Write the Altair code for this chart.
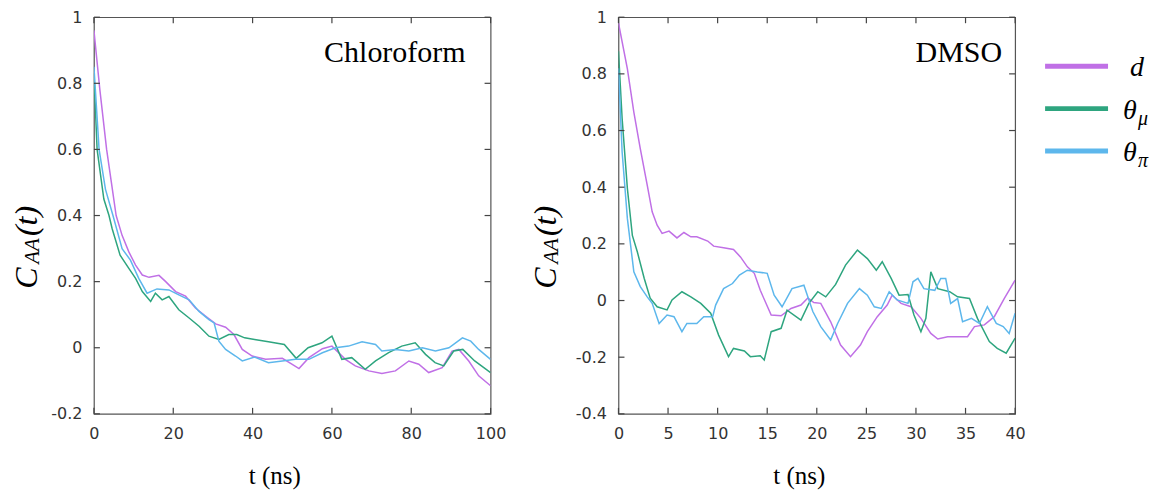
import altair as alt
import pandas as pd

SERIES = ["d", "theta_mu", "theta_pi"]
COLORS = ["#c070e6", "#2ea57f", "#5db7ec"]
LEG_MAIN = ["d", "θ", "θ"]
LEG_SUB = ["", "μ", "π"]

# Chloroform panel
CH_D_T = [0, 1.5, 3.2, 4.4, 5.6, 7.1, 8.8, 10.5, 12.2, 13.9, 16.4, 18.1, 20.6, 23.1, 25.6, 28.2, 30.7, 33.2, 35.3, 37.4,
          39.9, 43.3, 47.5, 50, 51.7, 54.2, 57.6, 60, 63.4, 65.9, 69.3, 72.6, 76, 79.4, 81.9, 84.4, 87.8, 90.3, 92, 94.5, 97, 100]
CH_D_V = [0.96, 0.78, 0.6, 0.5, 0.4, 0.34, 0.29, 0.25, 0.22, 0.213, 0.219, 0.2, 0.17, 0.156, 0.12, 0.095, 0.072, 0.062, 0.04, -0.005,
          -0.025, -0.035, -0.032, -0.05, -0.063, -0.03, -0.003, 0.005, -0.035, -0.055, -0.07, -0.078, -0.07, -0.04, -0.05, -0.075, -0.06, -0.01, -0.005, -0.04, -0.085, -0.115]
CH_M_T = [0, 0.8, 2.5, 3.8, 4.6, 6.6, 8.8, 10.5, 12.2, 14.3, 15.5, 17.2, 18.9, 21.4, 24, 26.5, 29, 31.5, 34, 36,
          38, 40.5, 44, 48, 51, 54, 57.5, 60, 62.5, 65, 68.4, 71, 74.3, 77.6, 81, 83.6, 86, 88.2, 90.7, 93, 96, 100]
CH_M_V = [0.83, 0.6, 0.45, 0.4, 0.36, 0.28, 0.24, 0.21, 0.17, 0.14, 0.165, 0.145, 0.155, 0.115, 0.09, 0.065, 0.035, 0.025, 0.04, 0.04,
          0.03, 0.025, 0.018, 0.01, -0.032, 0.0, 0.015, 0.035, -0.035, -0.03, -0.065, -0.04, -0.015, 0.005, 0.015, -0.02, -0.045, -0.055, -0.01, -0.005, -0.04, -0.075]
CH_P_T = [0, 1.3, 2.9, 4.8, 7.1, 9.2, 11.3, 13.4, 15.9, 18.9, 21.4, 24, 26.5, 29, 30.3, 31.5, 33.2, 35.7, 37.4, 40.5,
          44, 47.5, 50.8, 54.2, 57.6, 60.9, 64.2, 67.6, 71, 72.6, 76, 79.4, 82.8, 86.1, 89.5, 92.9, 95, 97, 100]
CH_P_V = [0.85, 0.6, 0.48, 0.4, 0.3, 0.265, 0.21, 0.165, 0.178, 0.175, 0.16, 0.145, 0.11, 0.085, 0.075, 0.02, -0.005, -0.025, -0.04, -0.028,
          -0.045, -0.04, -0.035, -0.035, -0.015, 0.0, 0.005, 0.018, 0.01, -0.01, -0.005, -0.01, 0.0, -0.01, 0.0, 0.03, 0.02, -0.005, -0.035]

# DMSO panel
DM_D_T = [0, 0.9, 1.55, 2.2, 2.9, 3.4, 3.9, 4.4, 5.1, 5.9, 6.6, 7.3, 7.9, 9.0, 9.6, 10.6, 11.6, 12.3, 13.0, 13.7,
          14.3, 15.4, 16.4, 17.4, 18.4, 19.1, 19.7, 20.4, 21.4, 22.4, 23.4, 24.4, 25.1, 26.1, 27.1, 27.6, 28.5, 29.5, 30.5, 31.5,
          32.2, 33.2, 34.2, 35.2, 35.9, 36.9, 37.9, 38.9, 40]
DM_D_V = [0.98, 0.818, 0.665, 0.536, 0.407, 0.313, 0.266, 0.237, 0.245, 0.221, 0.24, 0.225, 0.225, 0.21, 0.192, 0.186, 0.18, 0.154, 0.119, 0.096,
          0.036, -0.051, -0.054, -0.028, -0.016, 0.009, -0.007, -0.01, -0.075, -0.157, -0.198, -0.157, -0.11, -0.057, -0.016, 0.019, -0.01, -0.022, -0.063, -0.116,
          -0.136, -0.128, -0.128, -0.128, -0.092, -0.086, -0.057, 0.007, 0.072]
DM_M_T = [0, 0.37, 0.9, 1.4, 1.9, 2.6, 3.2, 3.9, 4.9, 5.4, 6.4, 7.3, 8.3, 9.3, 10.1, 11.1, 11.6, 12.7, 13.3, 14.3,
          14.7, 15.4, 16.4, 17.0, 18.4, 19.2, 20.1, 20.9, 21.9, 22.9, 24.1, 25.1, 26.0, 26.6, 27.5, 28.3, 29.2, 29.8, 30.5, 31.0,
          31.5, 32.2, 33.4, 34.2, 35.4, 36.2, 37.4, 38.2, 39.1, 40]
DM_M_V = [0.88, 0.642, 0.395, 0.23, 0.172, 0.078, 0.008, -0.022, -0.033, 0.002, 0.031, 0.013, -0.01, -0.045, -0.122, -0.198, -0.169, -0.178, -0.198, -0.195,
          -0.21, -0.11, -0.098, -0.034, -0.069, -0.01, 0.031, 0.013, 0.057, 0.125, 0.178, 0.148, 0.107, 0.137, 0.078, 0.019, 0.021, -0.051, -0.11, -0.063,
          0.101, 0.042, 0.031, 0.013, 0.007, -0.063, -0.145, -0.169, -0.186, -0.133]
DM_P_T = [0, 0.37, 0.9, 1.55, 2.2, 2.9, 3.4, 4.1, 4.9, 5.6, 6.4, 6.9, 7.9, 8.6, 9.5, 9.8, 10.6, 11.5, 12.2, 13.0,
          14.0, 15.0, 15.7, 16.5, 17.5, 18.7, 19.6, 20.4, 21.4, 22.1, 23.1, 24.3, 25.1, 25.8, 26.5, 27.3, 28.1, 29.2, 29.7, 30.2,
          30.8, 31.9, 32.5, 33.0, 33.5, 34.2, 34.7, 35.6, 36.4, 37.2, 38.1, 38.8, 39.4, 40]
DM_P_V = [0.82, 0.524, 0.289, 0.101, 0.049, 0.013, -0.01, -0.081, -0.051, -0.057, -0.11, -0.081, -0.081, -0.057, -0.057, -0.016, 0.042, 0.06, 0.09, 0.107,
          0.101, 0.096, 0.019, -0.022, 0.042, 0.054, -0.039, -0.092, -0.139, -0.081, -0.01, 0.042, 0.019, -0.022, -0.028, 0.031, 0.002, -0.01, 0.066, 0.078,
          0.042, 0.036, 0.078, 0.078, -0.01, 0.007, -0.075, -0.063, -0.081, -0.022, -0.081, -0.092, -0.116, -0.045]

CH_XTICKS = [0, 20, 40, 60, 80, 100]
DM_XTICKS = [0, 5, 10, 15, 20, 25, 30, 35, 40]
CH_YTICKS = [-0.2, 0, 0.2, 0.4, 0.6, 0.8, 1]
DM_YTICKS = [-0.4, -0.2, 0, 0.2, 0.4, 0.6, 0.8, 1]

W, H = 397, 397
SERIF = "Liberation Serif"
SANS = "DejaVu Sans"


def build_df(parts):
    frames = []
    for s, t, v in parts:
        f = pd.DataFrame({"t": t, "v": v})
        f["s"] = s
        frames.append(f)
    return pd.concat(frames, ignore_index=True)


CH_DF = build_df([("d", CH_D_T, CH_D_V), ("theta_mu", CH_M_T, CH_M_V), ("theta_pi", CH_P_T, CH_P_V)])
DM_DF = build_df([("d", DM_D_T, DM_D_V), ("theta_mu", DM_M_T, DM_M_V), ("theta_pi", DM_P_T, DM_P_V)])

COLOR = alt.Color("s:N", scale=alt.Scale(domain=SERIES, range=COLORS), legend=None)


def txt(text, x, y, size, italic=False, angle=0, align="center", baseline="alphabetic"):
    kw = dict(font=SERIF, fontSize=size, align=align, baseline=baseline, color="black")
    if italic:
        kw["fontStyle"] = "italic"
    if angle:
        kw["angle"] = angle
    return alt.Chart(pd.DataFrame({"txt": [text]})).mark_text(**kw).encode(
        text="txt:N", x=alt.value(x), y=alt.value(y))


def panel(df, xdom, xticks, ydom, yticks, name, name_x, ytx, legend=False):
    xs = alt.Scale(domain=xdom, nice=False, zero=False)
    ys = alt.Scale(domain=ydom, nice=False, zero=False)
    xax = alt.Axis(values=xticks, title=None, grid=False, ticks=False, domain=False,
                   labelFont=SANS, labelFontSize=16, labelColor="#333", labelPadding=12,
                   labelFlush=False, labelExpr="toString(datum.value)")
    yax = alt.Axis(values=yticks, title=None, grid=False, ticks=False, domain=False,
                   labelFont=SANS, labelFontSize=16, labelColor="#333", labelPadding=12,
                   labelExpr="toString(round(datum.value*10)/10)")
    X = alt.X("t:Q", scale=xs, axis=xax)
    Y = alt.Y("v:Q", scale=ys, axis=yax)
    lines = alt.Chart(df).mark_line(strokeWidth=1.5, clip=True).encode(x=X, y=Y, color=COLOR)
    xt = pd.DataFrame({"t": xticks})
    yt = pd.DataFrame({"v": yticks})
    tk = dict(color="#444", strokeWidth=1.2)
    bot = alt.Chart(xt).mark_rule(**tk).encode(x=X, y=alt.value(H), y2=alt.value(H - 6))
    top = alt.Chart(xt).mark_rule(**tk).encode(x=X, y=alt.value(0), y2=alt.value(6))
    lft = alt.Chart(yt).mark_rule(**tk).encode(y=Y, x=alt.value(0), x2=alt.value(6))
    rgt = alt.Chart(yt).mark_rule(**tk).encode(y=Y, x=alt.value(W), x2=alt.value(W - 6))
    layers = [lines, bot, top, lft, rgt,
              txt(name, name_x, 45, 30, align="right"),
              txt("t (ns)", 181, 467, 25),
              txt("C", ytx, 261, 32, italic=True, angle=270),
              txt("AA", ytx + 2, 234, 21, italic=True, angle=270),
              txt("(t)", ytx, 204, 32, italic=True, angle=270)]
    if legend:
        for i, s in enumerate(SERIES):
            yy = 49 + 42.5 * i
            ldf = pd.DataFrame({"s": [s], "lab": [LEG_MAIN[i]], "sub": [LEG_SUB[i]]})
            layers.append(alt.Chart(ldf).mark_rule(strokeWidth=5).encode(
                x=alt.value(427), x2=alt.value(490), y=alt.value(yy), color=COLOR))
            layers.append(alt.Chart(ldf).mark_text(font=SERIF, fontStyle="italic", fontSize=28, align="left",
                                                   baseline="alphabetic", color="black").encode(
                text="lab:N", x=alt.value(505 if LEG_SUB[i] else 512), y=alt.value(yy + 10)))
            if LEG_SUB[i]:
                layers.append(alt.Chart(ldf).mark_text(font=SERIF, fontStyle="italic", fontSize=20, align="left",
                                                       baseline="alphabetic", color="black").encode(
                    text="sub:N", x=alt.value(520), y=alt.value(yy + 16)))
    return alt.layer(*layers).properties(width=W, height=H)


left = panel(CH_DF, [0, 100], CH_XTICKS, [-0.2, 1], CH_YTICKS, "Chloroform", 372, -57)
right = panel(DM_DF, [0, 40], DM_XTICKS, [-0.4, 1], DM_YTICKS, "DMSO", 384, -63, legend=True)

chart = alt.hconcat(left, right, spacing=22).properties(
    padding={"left": 2, "top": 0, "right": 0, "bottom": 0}
).configure_view(stroke="#555", strokeWidth=1.2)

chart.save("out.html", embed_options={"renderer": "svg", "actions": False})
